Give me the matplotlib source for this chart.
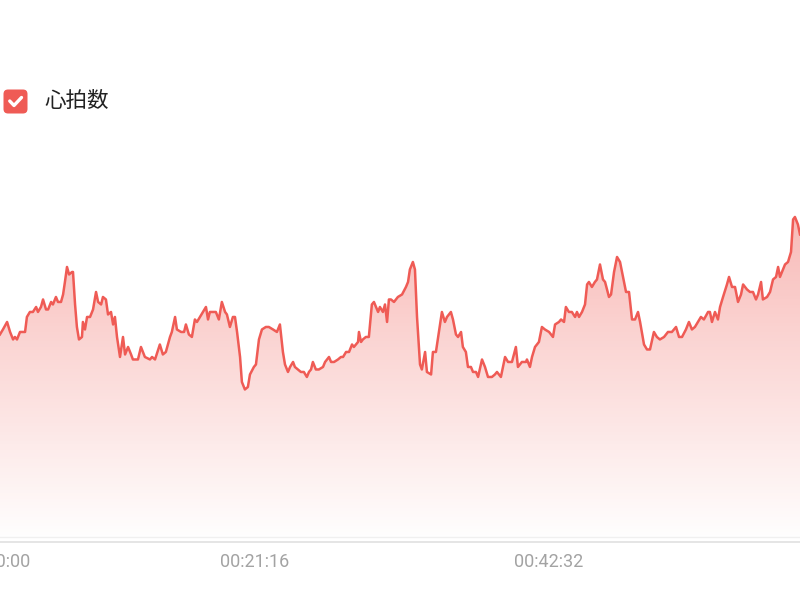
import numpy as np
import matplotlib
matplotlib.use('Agg')
from matplotlib import pyplot as plt
from matplotlib.colors import LinearSegmentedColormap
from matplotlib.patches import FancyBboxPatch

# elapsed time (s) and heart rate (bpm)
time_s = [169, 182, 200, 213, 226, 234, 243, 256, 269, 278, 286, 299, 312, 326, 334, 347, 356, 369, 378, 391,
          399, 412, 421, 434, 443, 451, 460, 469, 482, 486, 495, 503, 512, 525, 529, 538, 547, 560, 573, 586,
          595, 608, 616, 629, 638, 651, 660, 668, 677, 690, 703, 712, 725, 738, 746,
          768, 781, 798, 820, 829, 842, 863, 876, 889, 907, 915, 929, 937, 955, 968, 976, 989, 1002, 1015, 1024,
          1037, 1050, 1063, 1072, 1080, 1093, 1106, 1119, 1132, 1146, 1154, 1167, 1180, 1189, 1198, 1211, 1219,
          1232, 1245, 1254, 1271, 1280, 1293, 1306, 1323,
          1336, 1354, 1371, 1384, 1397, 1406, 1419, 1428, 1441, 1449, 1462, 1475, 1488, 1501, 1510, 1519, 1527,
          1540, 1553, 1571, 1580, 1597, 1606, 1619, 1636, 1649, 1658, 1671, 1684, 1697, 1705, 1723, 1727, 1736,
          1744, 1757, 1770, 1783, 1792, 1810, 1818, 1831, 1840, 1849, 1857, 1866, 1879, 1896,
          1914, 1931, 1940, 1948, 1961, 1970, 1979, 1992, 2000, 2014, 2022, 2040, 2048, 2061, 2074, 2087, 2100,
          2109, 2126, 2135, 2148, 2157, 2170, 2178, 2191, 2200, 2213, 2222, 2235, 2244, 2261, 2274, 2287, 2304,
          2317, 2326, 2343, 2361, 2374, 2391, 2408, 2417, 2434, 2452, 2456, 2469,
          2478, 2491, 2508, 2521, 2534, 2552, 2569, 2578, 2595, 2604, 2617, 2625, 2638, 2651, 2665, 2673, 2682,
          2695, 2708, 2717, 2725, 2738, 2751, 2760, 2773, 2786, 2795, 2812, 2821, 2834, 2847, 2860, 2873, 2886,
          2899, 2912, 2925, 2938, 2947, 2964, 2977, 2990, 3007, 3020, 3033, 3051,
          3068, 3085, 3103, 3116, 3129, 3146, 3159, 3172, 3185, 3198, 3211, 3224, 3242, 3250, 3259, 3272, 3285,
          3294, 3307, 3324, 3333, 3346, 3359, 3372, 3385, 3394, 3411, 3424, 3437, 3450, 3459, 3472, 3480, 3498,
          3511, 3524, 3537, 3546, 3554, 3563, 3576, 3589, 3602, 3611, 3619, 3632, 3641]
bpm = [83, 85, 88, 84, 81, 82, 81, 84, 84, 84, 90, 92, 92, 94, 92, 94, 97, 93, 93, 96,
       95, 98, 96, 96, 99, 104, 110, 107, 108, 108, 95, 86, 81, 82, 88, 85, 90, 90, 93, 100,
       96, 95, 98, 97, 91, 92, 87, 90, 82, 74, 82, 75, 78, 75, 73,
       73, 78, 74, 73, 74, 73, 79, 75, 76, 82, 84, 90, 85, 84, 84, 87, 83, 82, 89, 88,
       90, 92, 94, 89, 92, 92, 92, 89, 96, 92, 91, 86, 90, 90, 84, 74, 64,
       61, 62, 67, 70, 71, 81, 85, 86,
       86, 85, 84, 87, 76, 71, 68, 70, 72, 70, 69, 68, 68, 66, 68, 69, 72,
       69, 69, 70, 72, 74, 72, 72, 73, 74, 74, 76, 76, 79, 78, 80, 84, 80,
       81, 82, 82, 95, 96, 92, 94, 92, 95, 88, 97, 97, 96, 98,
       99, 102, 104, 109, 112, 109, 90, 71, 69, 76, 68, 67, 76, 76, 84, 92, 88,
       90, 92, 89, 83, 82, 84, 78, 76, 70, 70, 68, 68, 66, 73, 70, 66, 66,
       67, 68, 66, 74, 72, 72, 78, 70, 72, 72, 73, 70,
       74, 78, 80, 86, 85, 84, 82, 87, 88, 89, 88, 94, 92, 92, 90, 92, 90,
       92, 95, 103, 104, 102, 104, 105, 111, 105, 104, 98, 99, 108, 114, 112, 106, 100,
       100, 89, 89, 92, 88, 79, 77, 77, 84, 82, 81, 82,
       84, 84, 86, 82, 82, 85, 88, 85, 86, 88, 90, 89, 92, 92, 88, 92, 89,
       94, 98, 103, 106, 102, 102, 96, 99, 103, 101, 100, 100, 97, 99, 104, 97, 98,
       100, 105, 106, 110, 106, 108, 111, 112, 116, 129, 130, 127, 123]

tick_s = [0, 1276, 2552]
tick_labels = ['00:00:00', '00:21:16', '00:42:32']
legend_label = '心拍数'

red = '#ef5b55'

fig = plt.figure(figsize=(8, 6), dpi=100)
ax = fig.add_axes([-0.04875, 0.0967, 1.04875, 0.6667])

# gradient area under the line
area = ax.fill_between(time_s, bpm, 0, color='none', lw=0)
cmap = LinearSegmentedColormap.from_list('hr', [(0.94, 0.36, 0.33, 0.0), (0.94, 0.36, 0.33, 0.42)])
grad = np.linspace(0, 1, 256).reshape(-1, 1)
img = ax.imshow(grad, extent=[time_s[0], time_s[-1], 0, max(bpm)], origin='lower',
                aspect='auto', cmap=cmap, zorder=1)
img.set_clip_path(area.get_paths()[0], transform=ax.transData)

ax.plot(time_s, bpm, color=red, lw=1.8, zorder=3)

# faint baseline just above the axis
ax.axhline(2, color='#f1f1f1', lw=1, zorder=0)

ax.set_xlim(0, time_s[-1])
ax.set_ylim(0, 160)

for s in ['top', 'right', 'left']:
    ax.spines[s].set_visible(False)
ax.spines['bottom'].set_color('#e0e0e0')
ax.spines['bottom'].set_linewidth(1.2)
ax.set_yticks([])
ax.set_xticks(tick_s)
ax.set_xticklabels(tick_labels, fontsize=13, color='#a3a3a3', family='Roboto')
ax.xaxis.get_majorticklabels()[0].set_horizontalalignment('left')
ax.tick_params(axis='x', length=0, pad=8)

# legend: checked box + label
icon = fig.add_axes([3 / 800, (600 - 114) / 600, 25 / 800, 25 / 600])
icon.axis('off')
icon.set_xlim(0, 1)
icon.set_ylim(0, 1)
icon.add_patch(FancyBboxPatch((0.02, 0.02), 0.96, 0.96, boxstyle='round,pad=0,rounding_size=0.18',
                              facecolor=red, edgecolor='none'))
icon.plot([0.27, 0.44, 0.74], [0.52, 0.34, 0.66], color='white', lw=2.4, solid_capstyle='round',
          solid_joinstyle='round')
fig.text(44 / 800, 1 - 101 / 600, legend_label, fontsize=15.5, color='#222222', va='center', ha='left',
         family=['Noto Sans CJK JP', 'DejaVu Sans'])

fig.savefig('out.png', dpi=100)
